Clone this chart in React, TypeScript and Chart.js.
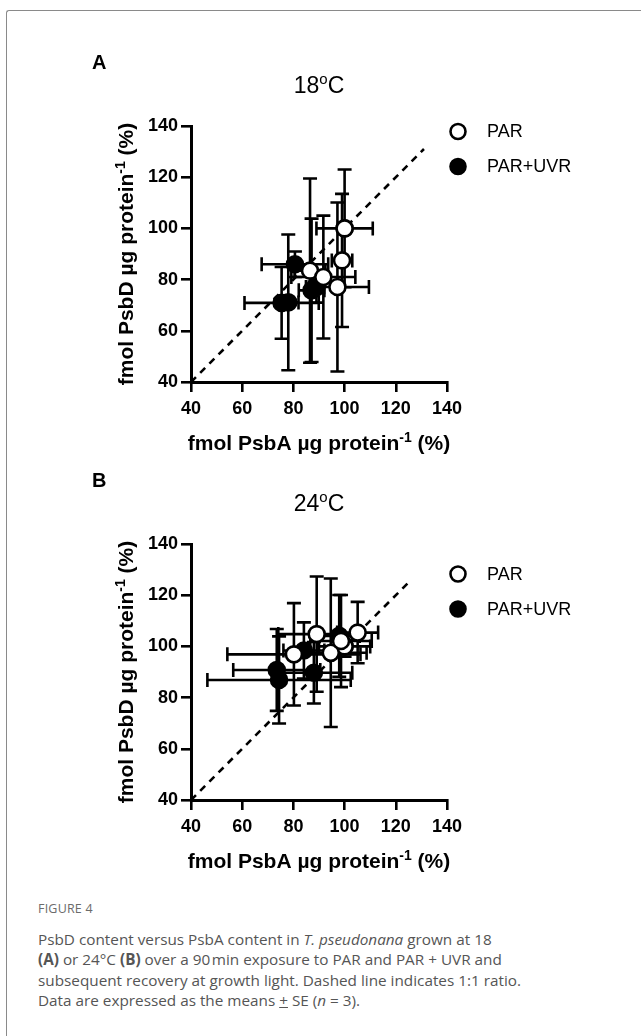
import React, { useEffect, useRef } from "react";
import { Chart, registerables } from "chart.js";

Chart.register(...registerables);

// ---------- data ----------
const axisMin = 40;
const axisMax = 140;
const axisStep = 20;

// Panel A (18 °C)
const aParX = [100, 99, 86.5, 91.7, 97.2];
const aParY = [100, 87.5, 83.5, 81, 77.1];
const aParXErr = [11, 4, 6, 12.5, 12.3];
const aParYErr = [23, 26, 36, 24, 33];
const aUvrX = [100, 80.6, 75.4, 78, 87.1, 89];
const aUvrY = [100, 86, 70.9, 71.1, 75.8, 77];
const aUvrXErr = [0, 13, 14.5, 4, 5, 3];
const aUvrYErr = [0, 5, 14, 26.5, 28, 6];
const aLineEnd = 131;

// Panel B (24 °C)
const bParX = [100, 80.2, 89.1, 94.6, 98.6, 105.1];
const bParY = [100, 96.9, 104.8, 97.5, 102.1, 105.4];
const bParXErr = [10, 26, 15, 14, 12, 8];
const bParYErr = [4, 20, 22.5, 29, 18, 12];
const bUvrX = [100, 84.1, 73.5, 74.4, 88, 97.9];
const bUvrY = [100, 98.4, 90.8, 86.9, 89.7, 104.1];
const bUvrXErr = [0, 8, 17, 28, 15, 8];
const bUvrYErr = [0, 11, 16, 17, 12, 16];
const bLineEnd = 126;

const seriesNames = ["PAR", "PAR+UVR"];
const xTitle = ["fmol PsbA µg protein", "-1", " (%)"];
const yTitle = ["fmol PsbD µg protein", "-1", " (%)"];

// ---------- helpers ----------
const FONT = "'Liberation Sans', Arial, sans-serif";

function pts(xs: number[], ys: number[]) {
  return xs.map((x, i) => ({ x, y: ys[i] }));
}

function drawSup(
  ctx: CanvasRenderingContext2D,
  parts: string[],
  x: number,
  y: number,
  size: number,
  supSize: number,
  bold: boolean,
  raise: number
) {
  const w = bold ? "bold " : "";
  const fonts = parts.map((_, i) => (i % 2 === 1 ? `${w}${supSize}px ${FONT}` : `${w}${size}px ${FONT}`));
  let total = 0;
  const widths = parts.map((p, i) => {
    ctx.font = fonts[i];
    const m = ctx.measureText(p).width;
    total += m;
    return m;
  });
  let cx = x - total / 2;
  ctx.textAlign = "left";
  ctx.textBaseline = "alphabetic";
  parts.forEach((p, i) => {
    ctx.font = fonts[i];
    ctx.fillText(p, cx, i % 2 === 1 ? y - raise : y);
    cx += widths[i];
  });
}

const errorBarPlugin = {
  id: "errorBars",
  beforeDatasetsDraw(chart: any) {
    const ctx = chart.ctx;
    const xs = chart.scales.x;
    const ys = chart.scales.y;
    const cap = 7;
    ctx.save();
    ctx.strokeStyle = "#000";
    ctx.lineWidth = 2.6;
    chart.data.datasets.forEach((ds: any) => {
      if (!ds.errX) return;
      ds.data.forEach((p: any, i: number) => {
        const px = xs.getPixelForValue(p.x);
        const py = ys.getPixelForValue(p.y);
        const ex = ds.errX[i];
        const ey = ds.errY[i];
        ctx.beginPath();
        if (ex > 0) {
          const l = xs.getPixelForValue(p.x - ex);
          const r = xs.getPixelForValue(p.x + ex);
          ctx.moveTo(l, py);
          ctx.lineTo(r, py);
          ctx.moveTo(l, py - cap);
          ctx.lineTo(l, py + cap);
          ctx.moveTo(r, py - cap);
          ctx.lineTo(r, py + cap);
        }
        if (ey > 0) {
          const t = ys.getPixelForValue(p.y + ey);
          const b = ys.getPixelForValue(p.y - ey);
          ctx.moveTo(px, t);
          ctx.lineTo(px, b);
          ctx.moveTo(px - cap, t);
          ctx.lineTo(px + cap, t);
          ctx.moveTo(px - cap, b);
          ctx.lineTo(px + cap, b);
        }
        ctx.stroke();
      });
    });
    ctx.restore();
  },
};

function makeTextPlugin(label: string, temp: string, legendY: number) {
  return {
    id: "panelText",
    afterDraw(chart: any) {
      const ctx = chart.ctx;
      const area = chart.chartArea;
      ctx.save();
      ctx.fillStyle = "#000";
      // panel label
      ctx.font = `bold 20px ${FONT}`;
      ctx.textAlign = "left";
      ctx.textBaseline = "alphabetic";
      ctx.fillText(label, 92, 69);
      // title with superscript degree
      drawSup(ctx, [temp, "o", "C"], (area.left + area.right) / 2, 93, 23, 15, false, 9);
      // legend
      const lx = 458;
      [0, 1].forEach((k) => {
        const ly = legendY + k * 35;
        ctx.beginPath();
        ctx.arc(lx, ly, 7.5, 0, Math.PI * 2);
        ctx.fillStyle = k === 0 ? "#fff" : "#000";
        ctx.fill();
        ctx.lineWidth = 2.6;
        ctx.strokeStyle = "#000";
        ctx.stroke();
        ctx.fillStyle = "#000";
        ctx.font = `18px ${FONT}`;
        ctx.textAlign = "left";
        ctx.textBaseline = "middle";
        ctx.fillText(seriesNames[k], 487, ly + 1);
      });
      // axis titles
      drawSup(ctx, xTitle, (area.left + area.right) / 2, area.bottom + 68, 21, 14, true, 8);
      ctx.save();
      ctx.translate(133, (area.top + area.bottom) / 2);
      ctx.rotate(-Math.PI / 2);
      drawSup(ctx, yTitle, 0, 0, 21, 14, true, 8);
      ctx.restore();
      ctx.restore();
    },
  };
}

const CANVAS_H = 470;

function Panel(props: {
  top: number;
  label: string;
  temp: string;
  legendY: number;
  parX: number[];
  parY: number[];
  parXErr: number[];
  parYErr: number[];
  uvrX: number[];
  uvrY: number[];
  uvrXErr: number[];
  uvrYErr: number[];
  lineEnd: number;
}) {
  const ref = useRef<HTMLCanvasElement | null>(null);
  useEffect(() => {
    if (!ref.current) return;
    const gridCommon = {
      display: true,
      drawOnChartArea: false,
      drawTicks: true,
      tickLength: 10,
      color: "#000",
      lineWidth: 2.6,
    };
    const tickFont = { family: FONT, size: 18, weight: "bold" as const };
    const chart = new Chart(ref.current, {
      type: "scatter",
      data: {
        datasets: [
          {
            label: seriesNames[0],
            data: pts(props.parX, props.parY),
            pointRadius: 8,
            pointHoverRadius: 8,
            pointBorderWidth: 2.6,
            backgroundColor: "#fff",
            borderColor: "#000",
            order: 0,
            errX: props.parXErr,
            errY: props.parYErr,
          } as any,
          {
            label: seriesNames[1],
            data: pts(props.uvrX, props.uvrY),
            pointRadius: 8,
            pointHoverRadius: 8,
            pointBorderWidth: 2.6,
            backgroundColor: "#000",
            borderColor: "#000",
            order: 1,
            errX: props.uvrXErr,
            errY: props.uvrYErr,
          } as any,
          {
            label: "1:1",
            type: "line",
            data: [
              { x: axisMin, y: axisMin },
              { x: props.lineEnd, y: props.lineEnd },
            ],
            showLine: true,
            borderColor: "#000",
            borderWidth: 2.6,
            borderDash: [7, 6],
            pointRadius: 0,
            fill: false,
            order: 2,
          } as any,
        ],
      },
      options: {
        animation: false,
        responsive: false,
        maintainAspectRatio: false,
        events: [],
        layout: { padding: { left: 0, top: 126, right: 641 - 447, bottom: 0 } },
        plugins: { legend: { display: false }, tooltip: { enabled: false }, title: { display: false } },
        scales: {
          x: {
            type: "linear",
            min: axisMin,
            max: axisMax,
            position: "bottom",
            grid: gridCommon,
            border: { display: true, color: "#000", width: 3 },
            ticks: { stepSize: axisStep, color: "#000", font: tickFont, padding: 6 },
            afterFit: (s: any) => {
              s.height = CANVAS_H - 382;
            },
          },
          y: {
            type: "linear",
            min: axisMin,
            max: axisMax,
            position: "left",
            grid: gridCommon,
            border: { display: true, color: "#000", width: 3 },
            ticks: { stepSize: axisStep, color: "#000", font: tickFont, padding: 3 },
            afterFit: (s: any) => {
              s.width = 191;
            },
          },
        },
      } as any,
      plugins: [errorBarPlugin, makeTextPlugin(props.label, props.temp, props.legendY)],
    });
    return () => chart.destroy();
  }, []);
  return (
    <canvas
      ref={ref}
      width={641}
      height={CANVAS_H}
      style={{ position: "absolute", left: 0, top: props.top, width: 641, height: CANVAS_H }}
    />
  );
}

export default function App() {
  return (
    <div
      style={{
        position: "fixed",
        left: 0,
        top: 0,
        width: 641,
        height: 1036,
        overflow: "hidden",
        background: "#fff",
      }}
    >
      <div
        style={{
          position: "absolute",
          left: 6,
          top: 10,
          width: 700,
          height: 1100,
          borderLeft: "1.5px solid #8a8a8a",
          borderTop: "1.5px solid #8a8a8a",
          borderTopLeftRadius: 3,
        }}
      />
      <Panel
        top={0}
        label="A"
        temp="18"
        legendY={131.5}
        parX={aParX}
        parY={aParY}
        parXErr={aParXErr}
        parYErr={aParYErr}
        uvrX={aUvrX}
        uvrY={aUvrY}
        uvrXErr={aUvrXErr}
        uvrYErr={aUvrYErr}
        lineEnd={aLineEnd}
      />
      <Panel
        top={418}
        label="B"
        temp="24"
        legendY={156}
        parX={bParX}
        parY={bParY}
        parXErr={bParXErr}
        parYErr={bParYErr}
        uvrX={bUvrX}
        uvrY={bUvrY}
        uvrXErr={bUvrXErr}
        uvrYErr={bUvrYErr}
        lineEnd={bLineEnd}
      />
      <div
        style={{
          position: "absolute",
          left: 38,
          top: 903,
          fontFamily: "'Open Sans', sans-serif",
          fontSize: 12.5,
          lineHeight: "12.5px",
          color: "#6b6b6b",
          letterSpacing: 0.2,
        }}
      >
        FIGURE 4
      </div>
      <div
        style={{
          position: "absolute",
          left: 38,
          top: 928.8,
          width: 600,
          fontFamily: "'Open Sans', sans-serif",
          fontSize: 15.3,
          lineHeight: "20.5px",
          color: "#555",
          whiteSpace: "nowrap",
        }}
      >
        PsbD content versus PsbA content in <i>T. pseudonana</i> grown at 18
        <br />
        <b>(A)</b> or 24°C <b>(B)</b> over a 90&#8202;min exposure to PAR and PAR + UVR and
        <br />
        subsequent recovery at growth light. Dashed line indicates 1:1 ratio.
        <br />
        Data are expressed as the means <span style={{ textDecoration: "underline" }}>+</span> SE (<i>n</i> = 3).
      </div>
    </div>
  );
}
